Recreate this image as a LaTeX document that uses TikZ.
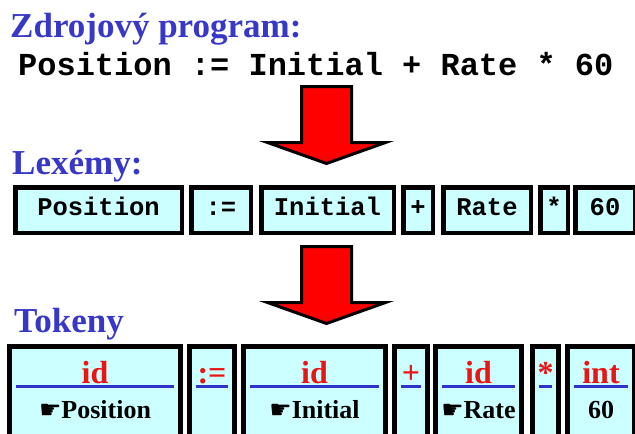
\documentclass[tikz,border=0pt]{standalone}
\usepackage{fontspec}
\setmainfont{Liberation Serif}
\setmonofont{Liberation Mono}
\newfontfamily\symfont{DejaVu Sans}
\definecolor{titleblue}{RGB}{55,55,200}
\definecolor{linkblue}{RGB}{50,50,200}
\definecolor{tokred}{RGB}{235,20,20}
\definecolor{boxcyan}{RGB}{204,255,255}
\definecolor{arrowred}{RGB}{255,0,0}
\tikzset{
  title/.style={inner sep=0pt, anchor=base west, text=titleblue, font=\fontsize{35}{35}\selectfont\bfseries},
  srcline/.style={inner sep=0pt, anchor=base west, font=\ttfamily\bfseries\fontsize{32}{32}\selectfont},
  lexbox/.style={draw=black, line width=4.5pt, fill=boxcyan, inner sep=0pt, minimum height=45.5pt,
     text height=15pt, text depth=5pt, font=\ttfamily\bfseries\fontsize{25.5}{25.5}\selectfont},
  tokbox/.style={draw=black, line width=5pt, fill=boxcyan, inner sep=0pt, minimum height=97pt},
  toklabel/.style={inner sep=0pt, anchor=base, text=tokred, font=\bfseries\fontsize{32}{32}\selectfont},
  tokval/.style={inner sep=0pt, anchor=base, text=black, font=\bfseries\fontsize{26}{26}\selectfont},
  blueline/.style={draw=linkblue, line width=3pt},
  bigarrow/.style={draw=black, line width=3pt, fill=arrowred, line join=miter},
  downarrow/.pic={\path[bigarrow] (-25,0) -- (25,0) -- (25,56) -- (59,56) -- (0,77) -- (-59,56) -- (-25,56) -- cycle;}
}
\newcommand{\hand}{{\symfont\mdseries\fontsize{25}{25}\selectfont ☛}}
\newcommand{\LexBox}[4]{\node[lexbox, minimum width={#3-#2-4.5}] (#1) at ({(#2+#3)/2},210) {#4};}
\newcommand{\TokBox}[5]{%
  \node[tokbox, minimum width={#3-#2-5}] (#1) at ({(#2+#3)/2},394.5) {};
  \node[toklabel] (#1-lab) at ({(#2+#3)/2},383) {#4};
  \draw[blueline] ({#2+9},386) -- ({#3-9},386);
  \node[tokval] (#1-val) at ({(#2+#3)/2},418) {#5};
}
\begin{document}
\begin{tikzpicture}[x=1pt,y=-1pt]
\clip (0,0) rectangle (635,434);
\fill[white] (0,0) rectangle (635,434);

\node[title] (t1) at (10,37) {Zdrojový program:};
\node[srcline] (src) at (18,75) {Position := Initial + Rate * 60};

\pic at (326.5,86.5) {downarrow};

\node[title] (t2) at (12,174) {Lexémy:};
\LexBox{l1}{13}{184}{Position}
\LexBox{l2}{189}{253}{:=}
\LexBox{l3}{259}{396}{Initial}
\LexBox{l4}{401}{435}{+}
\LexBox{l5}{441}{533}{Rate}
\LexBox{l6}{538}{570}{*}
\LexBox{l7}{573}{637}{60}

\pic at (326.5,246.5) {downarrow};

\node[title] (t3) at (14,332) {Tokeny};
\TokBox{k1}{7}{183}{id}{\hand Position}
\TokBox{k2}{187}{237}{:=}{}
\TokBox{k3}{241}{388}{id}{\hand Initial}
\TokBox{k4}{392}{430}{+}{}
\TokBox{k5}{433}{524}{id}{\hand Rate}
\TokBox{k6}{530}{561}{*}{}
\TokBox{k7}{565}{637}{int}{60}
\end{tikzpicture}
\end{document}
